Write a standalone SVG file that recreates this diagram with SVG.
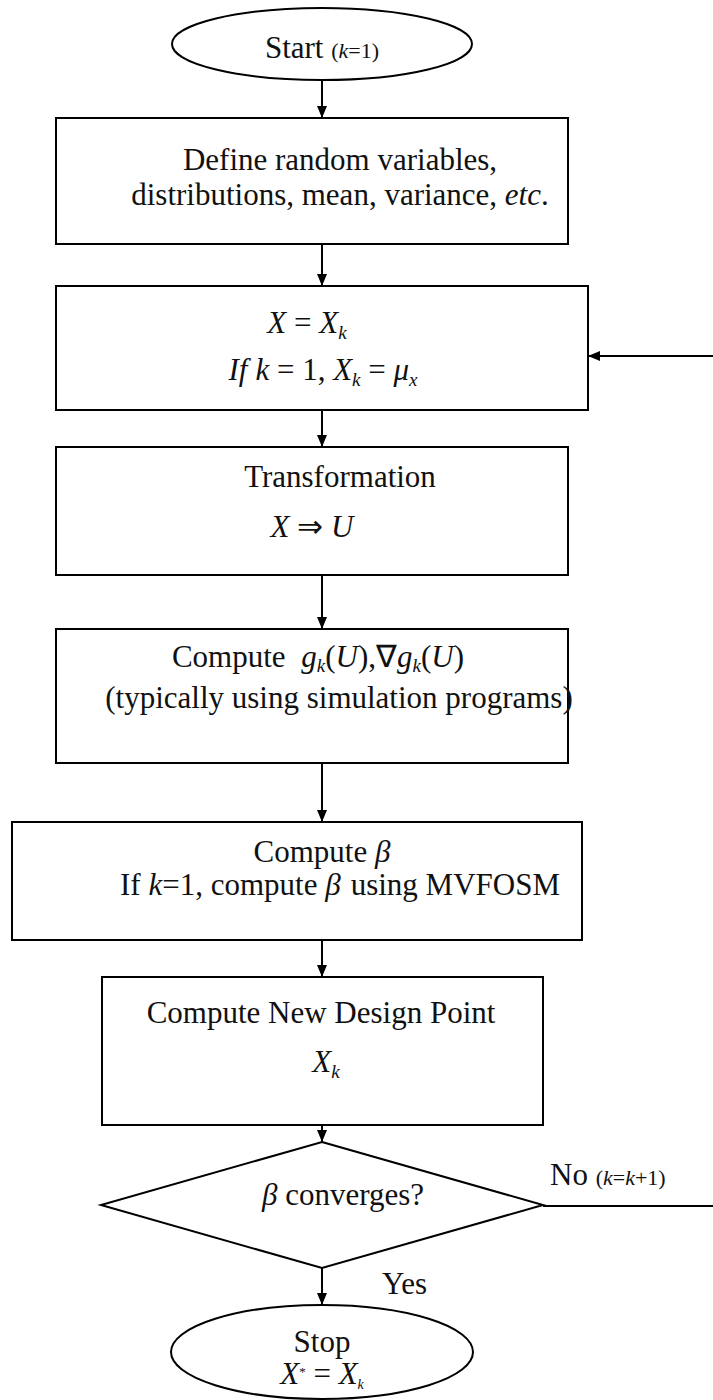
<svg xmlns="http://www.w3.org/2000/svg" width="713" height="1400" viewBox="0 0 713 1400">
<defs>
<marker id="ah" markerUnits="userSpaceOnUse" markerWidth="12" markerHeight="12" refX="12" refY="5" orient="auto"><path d="M0,0 L12,5 L0,10 z" fill="#000"/></marker>
<style>
.s{fill:#fff;stroke:#000;stroke-width:2}
.t{font-family:"Liberation Serif","Times New Roman",serif;font-size:31px;fill:#111}
.i{font-style:italic}
.c{stroke:#000;stroke-width:2;fill:none;marker-end:url(#ah)}
</style>
</defs>
<rect width="713" height="1400" fill="#fff"/>
<g id="connectors">
<path class="c" d="M322,80 V118"/>
<path class="c" d="M322,244 V286"/>
<path class="c" d="M322,410 V447"/>
<path class="c" d="M322,575 V629"/>
<path class="c" d="M322,763 V822"/>
<path class="c" d="M322,940 V977"/>
<path class="c" d="M322,1125 V1142"/>
<path class="c" d="M322,1268 V1305"/>
<path class="c" d="M543,1206 H716 V356 H588"/>
</g>
<g id="start">
<ellipse class="s" cx="322" cy="44" rx="150" ry="36"/>
<text class="t" x="322" y="58" text-anchor="middle" font-size="29">Start <tspan font-size="22">(<tspan class="i">k</tspan>=1)</tspan></text>
</g>
<g id="define">
<rect class="s" x="56" y="118" width="512" height="126"/>
<text class="t" x="340" y="170" text-anchor="middle">Define random variables,</text>
<text class="t" x="340" y="205" text-anchor="middle">distributions, mean, variance, <tspan class="i">etc</tspan>.</text>
</g>
<g id="init">
<rect class="s" x="56" y="286" width="532" height="124"/>
<text class="t" x="307" y="333" text-anchor="middle"><tspan class="i">X</tspan> = <tspan class="i">X</tspan><tspan class="i" font-size="19" dy="6">k</tspan></text>
<text class="t" x="323" y="380" text-anchor="middle"><tspan class="i">If</tspan><tspan class="i" dx="8">k</tspan> = 1, <tspan class="i">X</tspan><tspan class="i" font-size="19" dy="6">k</tspan><tspan dy="-6"> = </tspan><tspan class="i">μ</tspan><tspan class="i" font-size="19" dy="6">x</tspan></text>
</g>
<g id="transform">
<rect class="s" x="56" y="447" width="512" height="128"/>
<text class="t" x="340" y="487" text-anchor="middle">Transformation</text>
<text class="t" x="312" y="537" text-anchor="middle"><tspan class="i">X</tspan> ⇒ <tspan class="i">U</tspan></text>
</g>
<g id="computeg">
<rect class="s" x="56" y="629" width="512" height="134"/>
<text class="t" x="318" y="667" text-anchor="middle">Compute <tspan class="i" dx="8">g</tspan><tspan class="i" font-size="19" dy="5">k</tspan><tspan dy="-5">(</tspan><tspan class="i">U</tspan>),∇<tspan class="i">g</tspan><tspan class="i" font-size="19" dy="5">k</tspan><tspan dy="-5">(</tspan><tspan class="i">U</tspan>)</text>
<text class="t" x="339" y="708" text-anchor="middle" font-size="25.5">(typically using simulation programs)</text>
</g>
<g id="computebeta">
<rect class="s" x="12" y="822" width="570" height="118"/>
<text class="t" x="322" y="862" text-anchor="middle">Compute <tspan class="i">β</tspan></text>
<text class="t" x="340" y="895" text-anchor="middle">If <tspan class="i">k</tspan>=1, compute <tspan class="i">β</tspan><tspan dx="10">using MVFOSM</tspan></text>
</g>
<g id="newpoint">
<rect class="s" x="102" y="977" width="441" height="148"/>
<text class="t" x="321" y="1023" text-anchor="middle">Compute New Design Point</text>
<text class="t" x="326" y="1072" text-anchor="middle"><tspan class="i">X</tspan><tspan class="i" font-size="19" dy="6">k</tspan></text>
</g>
<g id="converge">
<polygon class="s" points="322,1142 543,1205 322,1268 101,1205"/>
<text class="t" x="343" y="1205" text-anchor="middle" font-size="28"><tspan class="i">β</tspan> converges?</text>
<text class="t" x="550" y="1185" font-size="30">No <tspan font-size="22">(<tspan class="i">k</tspan>=<tspan class="i">k</tspan>+1)</tspan></text>
<text class="t" x="382" y="1294" font-size="29">Yes</text>
</g>
<g id="stop">
<ellipse class="s" cx="322" cy="1352" rx="151" ry="47"/>
<text class="t" x="322" y="1352" text-anchor="middle" font-size="21">Stop</text>
<text class="t" x="322" y="1384" text-anchor="middle" font-size="21"><tspan class="i">X</tspan><tspan font-size="13" dy="-8">*</tspan><tspan dy="8"> = </tspan><tspan class="i">X</tspan><tspan class="i" font-size="14" dy="5">k</tspan></text>
</g>
</svg>
